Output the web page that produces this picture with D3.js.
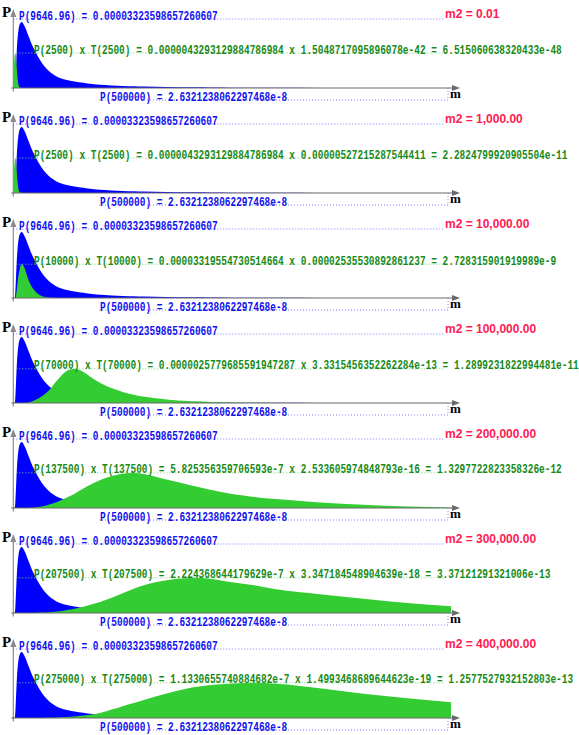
<!DOCTYPE html>
<html>
<head>
<meta charset="utf-8">
<script src="https://cdn.jsdelivr.net/npm/d3@7"></script>
<style>
  html, body { margin: 0; padding: 0; background: #fff; }
  svg { display: block; }
</style>
</head>
<body>
<svg id="chart" width="579" height="735"></svg>
<script>
// mass grid shared by every curve (m)
const masses = [0, 1000, 1500, 2000, 2500, 3000, 3500, 4000, 5000, 6000, 7500, 9646.96,
  12500, 15000, 17500, 20000, 25000, 30000, 35000, 40000, 50000, 60000, 70000, 80000,
  90000, 100000, 125000, 137500, 150000, 175000, 200000, 207500, 225000, 250000, 275000,
  300000, 350000, 400000, 450000, 500000];

// P(m), in units of 1e-5
const blueP = [0, 0, 0.02, 0.1, 0.45, 0.95, 1.45, 1.9, 2.55, 2.95, 3.22, 3.3236,
  3.15, 2.9, 2.6, 2.32, 1.85, 1.45, 1.12, 0.88, 0.57, 0.42, 0.33, 0.26,
  0.2, 0.165, 0.105, 0.085, 0.07, 0.05, 0.035, 0.032, 0.025, 0.018, 0.013,
  0.01, 0.006, 0.0042, 0.0032, 0.00263];

// P(m) x T(m), as drawn (rescaled per panel), same units
const greenA = [0, 1.35, 1.62, 1.73, 1.76, 1.6, 1.35, 1.0, 0.45, 0.15, 0.03, 0.005,
  0, 0, 0, 0, 0, 0, 0, 0, 0, 0, 0, 0, 0, 0, 0, 0, 0, 0, 0, 0, 0, 0, 0, 0, 0, 0, 0, 0];
const greenB = [0, 1.3, 1.6, 1.72, 1.76, 1.62, 1.4, 1.05, 0.5, 0.18, 0.04, 0.005,
  0, 0, 0, 0, 0, 0, 0, 0, 0, 0, 0, 0, 0, 0, 0, 0, 0, 0, 0, 0, 0, 0, 0, 0, 0, 0, 0, 0];
const greenC = [0, 0, 0, 0, 0.02, 0.1, 0.25, 0.42, 0.82, 1.15, 1.5, 1.7,
  1.55, 1.22, 0.9, 0.65, 0.34, 0.15, 0.06, 0.02, 0.003, 0, 0, 0,
  0, 0, 0, 0, 0, 0, 0, 0, 0, 0, 0, 0, 0, 0, 0, 0];
const greenD = [0, 0, 0, 0, 0, 0, 0, 0, 0, 0, 0, 0,
  0.005, 0.012, 0.03, 0.06, 0.15, 0.27, 0.42, 0.6, 1.13, 1.58, 1.72, 1.56,
  1.26, 0.99, 0.56, 0.42, 0.31, 0.18, 0.1, 0.085, 0.05, 0.02, 0.008,
  0.003, 0, 0, 0, 0];
const greenE = [0, 0, 0, 0, 0, 0, 0, 0, 0, 0, 0, 0,
  0, 0, 0.005, 0.01, 0.03, 0.06, 0.1, 0.16, 0.3, 0.5, 0.72, 0.98,
  1.22, 1.42, 1.73, 1.77, 1.7, 1.43, 1.17, 1.09, 0.92, 0.71, 0.56,
  0.45, 0.28, 0.16, 0.08, 0.03];
const greenF = [0, 0, 0, 0, 0, 0, 0, 0, 0, 0, 0, 0,
  0, 0, 0, 0, 0, 0.01, 0.02, 0.04, 0.08, 0.14, 0.22, 0.32,
  0.44, 0.57, 1.0, 1.22, 1.41, 1.65, 1.76, 1.77, 1.73, 1.55, 1.4,
  1.2, 0.95, 0.72, 0.5, 0.34];
const greenG = [0, 0, 0, 0, 0, 0, 0, 0, 0, 0, 0, 0,
  0, 0, 0, 0, 0, 0, 0, 0.01, 0.03, 0.05, 0.08, 0.12,
  0.17, 0.27, 0.59, 0.75, 0.92, 1.24, 1.5, 1.56, 1.66, 1.74, 1.77,
  1.73, 1.5, 1.22, 1.0, 0.79];
const greenSeries = [greenA, greenB, greenC, greenD, greenE, greenF, greenG];

const m2Labels = ['m2 = 0.01', 'm2 = 1,000.00', 'm2 = 10,000.00', 'm2 = 100,000.00',
  'm2 = 200,000.00', 'm2 = 300,000.00', 'm2 = 400,000.00'];
const productLabels = [
  'P(2500) x T(2500) = 0.0000043293129884786984 x 1.5048717095896078e-42 = 6.515060638320433e-48',
  'P(2500) x T(2500) = 0.0000043293129884786984 x 0.00000527215287544411 = 2.2824799920905504e-11',
  'P(10000) x T(10000) = 0.00003319554730514664 x 0.00002535530892861237 = 2.728315901919989e-9',
  'P(70000) x T(70000) = 0.0000025779685591947287 x 3.3315456352262284e-13 = 1.2899231822994481e-11',
  'P(137500) x T(137500) = 5.825356359706593e-7 x 2.533605974848793e-16 = 1.3297722823358326e-12',
  'P(207500) x T(207500) = 2.224368644179629e-7 x 3.347184548904639e-18 = 3.37121291321006e-13',
  'P(275000) x T(275000) = 1.1330655740884682e-7 x 1.4993468689644623e-19 = 1.2577527932152803e-13'];
const peakLabel = 'P(9646.96) = 0.00003323598657260607';
const tailLabel = 'P(500000) = 2.6321238062297468e-8';
const peakP = 3.3236;
const maxMass = 500000;

// style
const panelH = 105,
      charW = 5.68,
      monoSize = 13,
      monoFont = '"Liberation Mono", "DejaVu Sans Mono", monospace';
const blueFill = '#0000ff',
      greenFill = '#33cc33',
      blueText = '#1010f0',
      greenText = '#178a17',
      redText = '#ff2052';

const svg = d3.select('#chart');
const x = d3.scaleLinear().domain([0, maxMass]).range([13.3, 451]);
const lineEnd = 445;

// narrow monospace text: 0.6em glyphs squeezed horizontally to charW per char
function monoText(g, str, tx, ty, color) {
  const sx = charW / (monoSize * 0.6);
  g.append('text')
    .attr('transform', `translate(${tx},${ty}) scale(${sx},1)`)
    .attr('font-family', monoFont)
    .attr('font-size', monoSize)
    .attr('font-weight', 'bold')
    .attr('fill', color)
    .text(str);
}

greenSeries.forEach((green, i) => {
  const top = i * panelH;
  const y = d3.scaleLinear().domain([0, peakP]).range([top + 88, top + 22]);
  const g = svg.append('g');

  const area = d3.area()
    .x((d, j) => x(masses[j]))
    .y0(y(0))
    .y1(d => y(d))
    .curve(d3.curveMonotoneX);

  g.append('path').datum(blueP).attr('d', area).attr('fill', blueFill);
  g.append('path').datum(green).attr('d', area).attr('fill', greenFill);

  // axes
  const x0 = x(0), yAxis = y(0);
  g.append('line')
    .attr('x1', x0).attr('x2', x0)
    .attr('y1', top + 14).attr('y2', yAxis + 3.5)
    .attr('stroke', '#8a8a8a').attr('stroke-width', 1.2);
  g.append('path')
    .attr('d', `M${x0},${top + 9}L${x0 - 3},${top + 17}L${x0 + 3},${top + 17}Z`)
    .attr('fill', '#8a8a8a');
  g.append('line')
    .attr('x1', x0 - 2).attr('x2', 454)
    .attr('y1', yAxis).attr('y2', yAxis)
    .attr('stroke', '#6a6a6a').attr('stroke-width', 1.2);
  g.append('path')
    .attr('d', `M460,${yAxis}L452,${yAxis - 3}L452,${yAxis + 3}Z`)
    .attr('fill', '#6a6a6a');

  g.append('text')
    .attr('x', 2).attr('y', top + 17)
    .attr('font-family', '"Liberation Serif", serif')
    .attr('font-weight', 'bold').attr('font-size', 15)
    .text('P');
  g.append('text')
    .attr('x', 450).attr('y', top + 98)
    .attr('font-family', '"Liberation Serif", serif')
    .attr('font-weight', 'bold').attr('font-size', 13)
    .text('m');

  // guide lines
  const peakY = y(peakP) - 3;
  const greenY = y(d3.max(green));
  const tailY = yAxis + 12;
  g.append('line')
    .attr('x1', x0).attr('x2', lineEnd).attr('y1', peakY).attr('y2', peakY)
    .attr('stroke', '#7b7bff').attr('stroke-dasharray', '1,2');
  g.append('line')
    .attr('x1', x0).attr('x2', lineEnd).attr('y1', greenY).attr('y2', greenY)
    .attr('stroke', '#7fcf7f').attr('stroke-dasharray', '1,2');
  g.append('path')
    .attr('d', `M${x(maxMass) - 3},${yAxis}V${tailY}H${x(0) + 86}`)
    .attr('fill', 'none')
    .attr('stroke', '#7b7bff').attr('stroke-dasharray', '1,2');

  monoText(g, peakLabel, 19, peakY + 0.5, blueText);
  monoText(g, productLabels[i], 34, greenY + 0.5, greenText);
  monoText(g, tailLabel, 100, tailY + 0.5, blueText);

  g.append('text')
    .attr('x', 445).attr('y', top + 18)
    .attr('font-family', '"Liberation Sans", Arial, sans-serif')
    .attr('font-weight', 'bold').attr('font-size', 12)
    .attr('fill', redText)
    .text(m2Labels[i]);
});
</script>
</body>
</html>
